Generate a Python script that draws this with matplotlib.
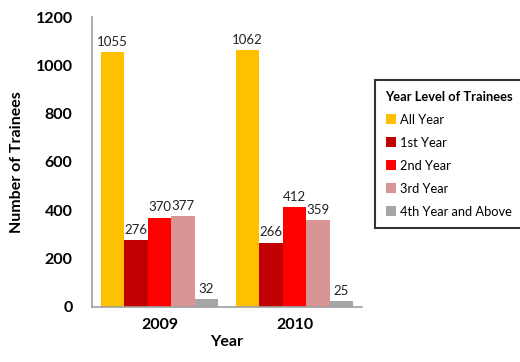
import numpy as np
import matplotlib
matplotlib.use("Agg")
import matplotlib.pyplot as plt

plt.rcParams['font.family'] = ['Lato', 'DejaVu Sans']

years = ['2009', '2010']
levels = ['All Year', '1st Year', '2nd Year', '3rd Year', '4th Year and Above']
all_year = [1055, 1062]
first_year = [276, 266]
second_year = [370, 412]
third_year = [377, 359]
fourth_year = [32, 25]
colors = ['#FFC000', '#C00000', '#FF0000', '#D99594', '#A6A6A6']

series = [all_year, first_year, second_year, third_year, fourth_year]

fig = plt.figure(figsize=(5.2, 3.62), dpi=100)
ax = fig.add_axes([0.177, 0.152, 0.519, 0.801])

x = np.arange(len(years))
width = 0.1733
for i, (vals, name, c) in enumerate(zip(series, levels, colors)):
    pos = x + (i - 2) * width
    bars = ax.bar(pos, vals, width, color=c, label=name)
    for b, v in zip(bars, vals):
        ax.text(b.get_x() + b.get_width() / 2, v + 18, str(v),
                ha='center', va='bottom', fontsize=9.5, color='#222222')

ax.set_xlim(-0.5, 1.5)
ax.set_ylim(0, 1200)
ax.set_yticks(range(0, 1201, 200))
ax.set_xticks(x)
ax.set_xticklabels(years)
ax.tick_params(length=0, labelsize=11.5, pad=8)
for lbl in ax.get_xticklabels() + ax.get_yticklabels():
    lbl.set_fontweight('bold')
ax.tick_params(axis='y', pad=14)

for s in ['top', 'right']:
    ax.spines[s].set_visible(False)
for s in ['left', 'bottom']:
    ax.spines[s].set_color('#A0A0A0')
    ax.spines[s].set_linewidth(1.2)

ax.set_ylabel('Number of Trainees', fontsize=11.5, fontweight='bold', labelpad=8)
ax.set_xlabel('Year', fontsize=11.5, fontweight='bold', labelpad=2)

leg = fig.legend(loc='upper left', bbox_to_anchor=(0.709, 0.796),
                 title='Year Level of Trainees', fontsize=9.3,
                 title_fontproperties={'weight': 'bold', 'size': 9.3},
                 frameon=True, fancybox=False, edgecolor='black',
                 handlelength=0.75, handleheight=0.75, handletextpad=0.35,
                 labelspacing=0.85, borderpad=0.8)
leg.get_frame().set_linewidth(1.5)

fig.savefig('out.png', dpi=100)
